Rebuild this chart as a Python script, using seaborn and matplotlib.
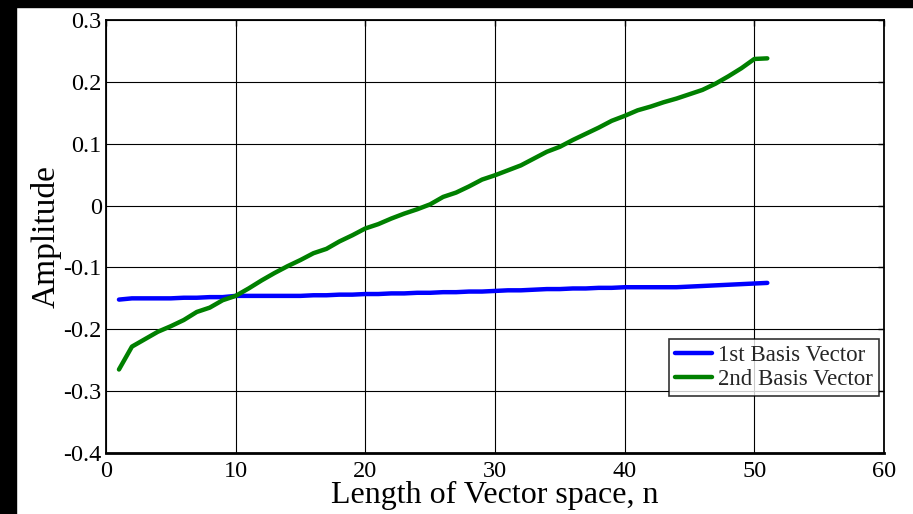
import pandas as pd
import matplotlib.pyplot as plt
import seaborn as sns
from matplotlib.patches import Rectangle

# values
n_values = list(range(1, 52))
first_basis = [-0.152, -0.150, -0.150, -0.150, -0.150, -0.149, -0.149, -0.148, -0.148, -0.146,
               -0.146, -0.146, -0.146, -0.146, -0.146, -0.145, -0.145, -0.144, -0.144, -0.143,
               -0.143, -0.142, -0.142, -0.141, -0.141, -0.140, -0.140, -0.139, -0.139, -0.138,
               -0.137, -0.137, -0.136, -0.135, -0.135, -0.134, -0.134, -0.133, -0.133, -0.132,
               -0.132, -0.132, -0.132, -0.132, -0.131, -0.130, -0.129, -0.128, -0.127, -0.126,
               -0.125]
second_basis = [-0.265, -0.228, -0.216, -0.204, -0.195, -0.185, -0.172, -0.165, -0.153, -0.146,
                -0.134, -0.121, -0.109, -0.098, -0.088, -0.077, -0.070, -0.058, -0.048, -0.037,
                -0.030, -0.021, -0.013, -0.006, 0.002, 0.014, 0.021, 0.031, 0.042, 0.049,
                0.057, 0.065, 0.076, 0.087, 0.095, 0.106, 0.116, 0.126, 0.137, 0.145,
                0.154, 0.160, 0.167, 0.173, 0.180, 0.187, 0.197, 0.209, 0.222, 0.237,
                0.238]
series_names = ['1st Basis Vector', '2nd Basis Vector']
x_ticks = [0, 10, 20, 30, 40, 50, 60]
y_ticks = [-0.4, -0.3, -0.2, -0.1, 0, 0.1, 0.2, 0.3]
y_tick_labels = ['-0.4', '-0.3', '-0.2', '-0.1', '0', '0.1', '0.2', '0.3']

df = pd.DataFrame({
    'n': n_values * 2,
    'amp': first_basis + second_basis,
    'vector': [series_names[0]] * len(n_values) + [series_names[1]] * len(n_values),
})

sns.set_theme(style="white")
plt.rcParams['font.family'] = ['Liberation Serif', 'DejaVu Serif']

fig = plt.figure(figsize=(9.13, 5.14), dpi=100, facecolor='white')
# dark strips on top and left edge of the screenshot
fig.add_artist(Rectangle((0, 1 - 7 / 514), 1, 7 / 514, transform=fig.transFigure,
                         color='black', zorder=0))
fig.add_artist(Rectangle((0, 0), 16 / 913, 1, transform=fig.transFigure,
                         color='black', zorder=0))

ax = fig.add_axes([106 / 913, 1 - 453 / 514, 778 / 913, 433 / 514])
sns.lineplot(data=df, x='n', y='amp', hue='vector', palette=['#0000ff', '#008000'],
             linewidth=3.2, ax=ax)

ax.set_xlim(0, 60)
ax.set_ylim(-0.4, 0.3)
ax.set_xticks(x_ticks)
ax.set_yticks(y_ticks)
ax.set_yticklabels(y_tick_labels)
ax.grid(True, color='black', linewidth=0.8)
ax.set_axisbelow(True)
ax.tick_params(direction='in', length=4, width=1, colors='black', labelsize=17.5,
               top=True, right=True)
ax.tick_params(axis='x', pad=6)
ax.tick_params(axis='y', pad=3)
for s in ax.spines.values():
    s.set_color('black')
    s.set_linewidth(1.3)
ax.spines['bottom'].set_linewidth(2)

ax.set_xlabel('Length of Vector space, n', fontsize=23, color='black', labelpad=-1)
ax.set_ylabel('Amplitude', fontsize=24, color='black', labelpad=1)

leg = ax.legend(loc='lower right', bbox_to_anchor=(0.9936, 0.1316), borderaxespad=0,
                fontsize=16.5, frameon=True, fancybox=False, edgecolor='black',
                handlelength=1.6, handletextpad=0.3, borderpad=0.25, labelspacing=0.15)
leg.get_frame().set_linewidth(1.2)

fig.savefig('out.png', dpi=100)
